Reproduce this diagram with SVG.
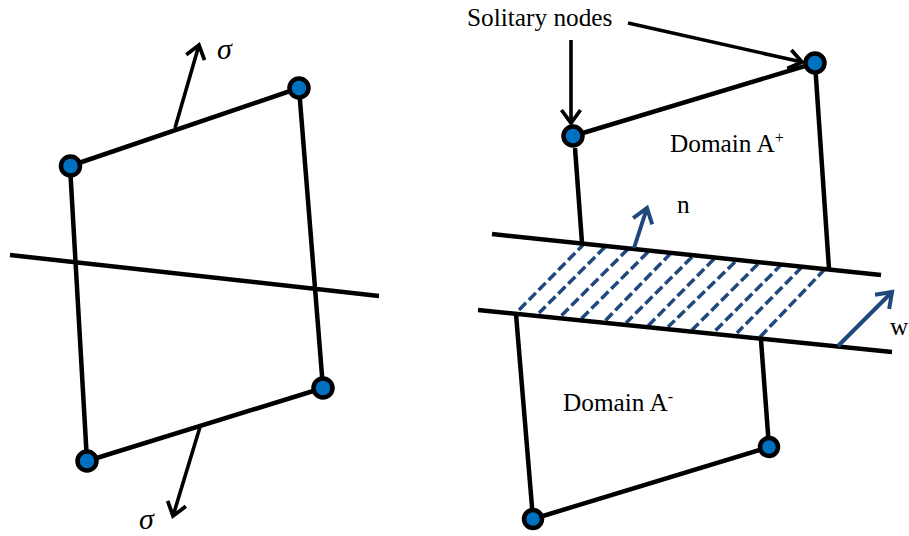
<svg xmlns="http://www.w3.org/2000/svg" width="909" height="536" viewBox="0 0 909 536">
<defs>
<style>
.e{stroke:#000;stroke-width:4.5;fill:none}
.a{stroke:#000;stroke-width:3.6;fill:none;marker-end:url(#k)}
.b{stroke:#1f497d;stroke-width:4;fill:none;marker-end:url(#u)}
.d{stroke:#1f497d;stroke-width:3.5;fill:none;stroke-dasharray:10 4}
.n{fill:#0070c0;stroke:#000;stroke-width:4.5}
text{font-family:"Liberation Serif","Times New Roman",serif;font-size:25.300px;fill:#000}
.s{font-style:italic;font-size:30px}
</style>
<marker id="k" markerUnits="userSpaceOnUse" markerWidth="30" markerHeight="30" refX="20" refY="15" orient="auto" overflow="visible"><path d="M7 5.500L20 15L7 24.500" fill="none" stroke="#000" stroke-width="3.800"/></marker>
<marker id="u" markerUnits="userSpaceOnUse" markerWidth="30" markerHeight="30" refX="20" refY="15" orient="auto" overflow="visible"><path d="M6 5L20 15L6 25" fill="none" stroke="#1f497d" stroke-width="4"/></marker>
</defs>
<g id="connectors">
<path class="d" d="M585 243L519 310M605 247L539 313M628 249L558 319M648 252L581 319M671 253L603 323M692 257L626 323M714 259L646 328M735 262L668 327M758 264L692 330M782 264L713 333M802 267L737 333M825 269L759 338"/>
<path class="e" d="M70 166L299 88M299 88L323 388M323 388L87 461M87 461L70 166M10 255L379 296"/>
<path class="a" d="M175 128L199 45"/>
<path class="a" d="M200 427L173 516"/>
<path class="e" d="M573 136L815 63M575 148L582 243M815 63L829 269M492 234L881 275M478 310L892 352M516 314L533 519M761 340L769 447M533 519L769 447"/>
<path class="a" d="M571 40L571 123"/>
<path class="a" d="M628 23L802 62"/>
<path class="b" d="M634 248L647 208"/>
<path class="b" d="M838 346L892 292"/>
</g>
<g id="node-1"><circle class="n" cx="70.500" cy="166" r="9.500"/></g>
<g id="node-2"><circle class="n" cx="299" cy="88" r="9.500"/></g>
<g id="node-3"><circle class="n" cx="323" cy="388" r="9.500"/></g>
<g id="node-4"><circle class="n" cx="87" cy="461" r="9.500"/></g>
<g id="node-5"><circle class="n" cx="573" cy="136" r="9.500"/></g>
<g id="node-6"><circle class="n" cx="815" cy="63" r="9.500"/></g>
<g id="node-7"><circle class="n" cx="769" cy="447" r="9"/></g>
<g id="node-8"><circle class="n" cx="533" cy="519" r="9"/></g>
<g id="labels">
<text class="s" x="217" y="59">σ</text>
<text class="s" x="139" y="529">σ</text>
<text x="467" y="26">Solitary nodes</text>
<text x="670" y="152">Domain A<tspan font-size="16" dy="-9">+</tspan></text>
<text x="563" y="411">Domain A<tspan font-size="16" dy="-9">-</tspan></text>
<text x="677" y="213">n</text>
<text x="890" y="335">w</text>
</g>
</svg>
